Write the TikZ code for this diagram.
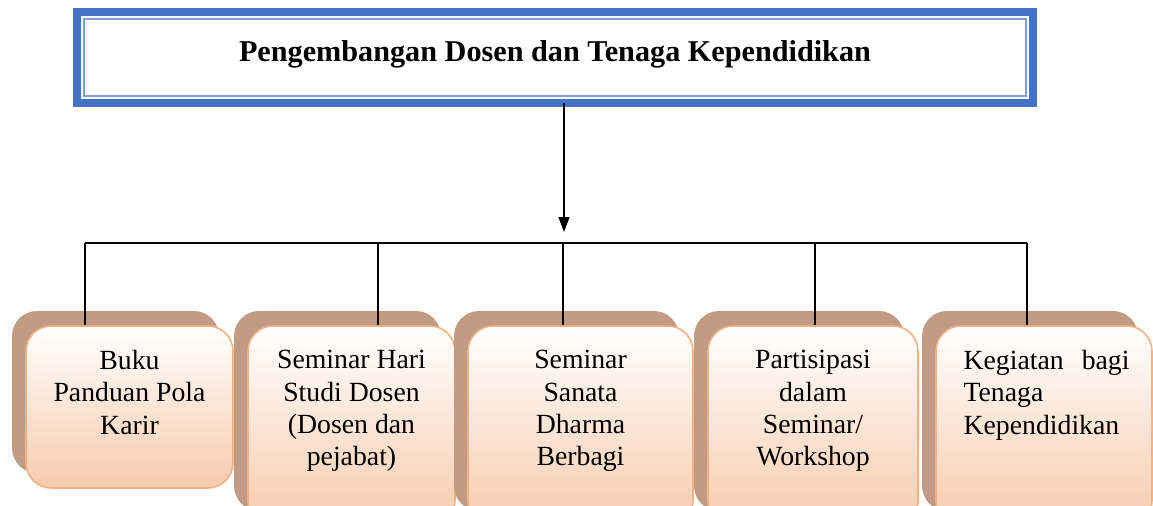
\documentclass[tikz,border=0pt]{standalone}
\usepackage{fontspec}
\setmainfont{Liberation Serif}
\usetikzlibrary{positioning,shadows,arrows.meta,calc}

\definecolor{frameblue}{HTML}{4472C4}
\definecolor{framelight}{HTML}{7E9FD8}
\definecolor{shadowbrown}{HTML}{C19B84}
\definecolor{boxedge}{HTML}{F4B183}
\definecolor{boxpeach}{HTML}{F7CBAC}

\tikzset{
    card/.style={draw=boxedge, line width=0.9pt, rounded corners=0.5cm,
        top color=white, bottom color=boxpeach,
        general shadow={fill=shadowbrown, shadow xshift=-0.28cm, shadow yshift=0.3cm}},
    cardtext/.style={inner sep=0pt, font=\fontsize{15.8}{18.3}\selectfont},
    link/.style={line width=0.7pt},
}

\begin{document}
\begin{tikzpicture}[x=0.02cm, y=-0.02cm]
    \useasboundingbox (0,0) rectangle (1153,506);
    \clip (0,0) rectangle (1153,506);

    % heading
    \node[draw=frameblue, line width=0.16cm, outer sep=0pt,
          minimum width=19.12cm, minimum height=1.82cm, text depth=0.26cm,
          font=\bfseries\fontsize{17.2}{20}\selectfont] (title) at (555,57.5)
          {Pengembangan Dosen dan Tenaga Kependidikan};
    \draw[framelight, line width=0.035cm] ($(title.north west)+(0.14cm,-0.14cm)$)
        rectangle ($(title.south east)+(-0.14cm,0.14cm)$);

    % cards
    \node[card, minimum width=4.14cm, minimum height=3.24cm] (b1) at (129.5,407) {};
    \node[card, minimum width=4.14cm, minimum height=4cm] (b2) at (351.5,426) {};
    \node[card, minimum width=4.5cm,  minimum height=4cm] (b3) at (580.5,426) {};
    \node[card, minimum width=4.2cm,  minimum height=4cm] (b4) at (813,426) {};
    \node[card, minimum width=4.32cm, minimum height=4cm] (b5) at (1044,426) {};

    \node[cardtext, align=center, below=0.5cm of b1.north] (t1) {Buku\\Panduan Pola\\Karir};
    \node[cardtext, align=center, below=0.5cm of b2.north] (t2) {Seminar Hari\\Studi Dosen\\(Dosen dan\\pejabat)};
    \node[cardtext, align=center, below=0.5cm of b3.north] (t3) {Seminar\\Sanata\\Dharma\\Berbagi};
    \node[cardtext, align=center, below=0.5cm of b4.north] (t4) {Partisipasi\\dalam\\Seminar/\\Workshop};
    \node[cardtext, text width=3.32cm, align=left, below right=0.5cm and 0.56cm of b5.north west] (t5)
        {Kegiatan\hfill bagi\\Tenaga\\Kependidikan};

    % arrow and bus
    \coordinate (tip) at (564,232);
    \draw[link, -{Triangle[width=0.22cm, length=0.3cm]}] (title.south -| tip) -- (tip);

    \coordinate (busL) at (85,243);
    \coordinate (busR) at (1027,243);
    \draw[link] (busL) -- (busR);
    \foreach \i/\x in {1/85, 2/378, 3/563, 4/815, 5/1027} {
        \coordinate (j\i) at (\x,243);
        \draw[link] (j\i) -- (j\i |- b\i.north);
    }
\end{tikzpicture}
\end{document}
